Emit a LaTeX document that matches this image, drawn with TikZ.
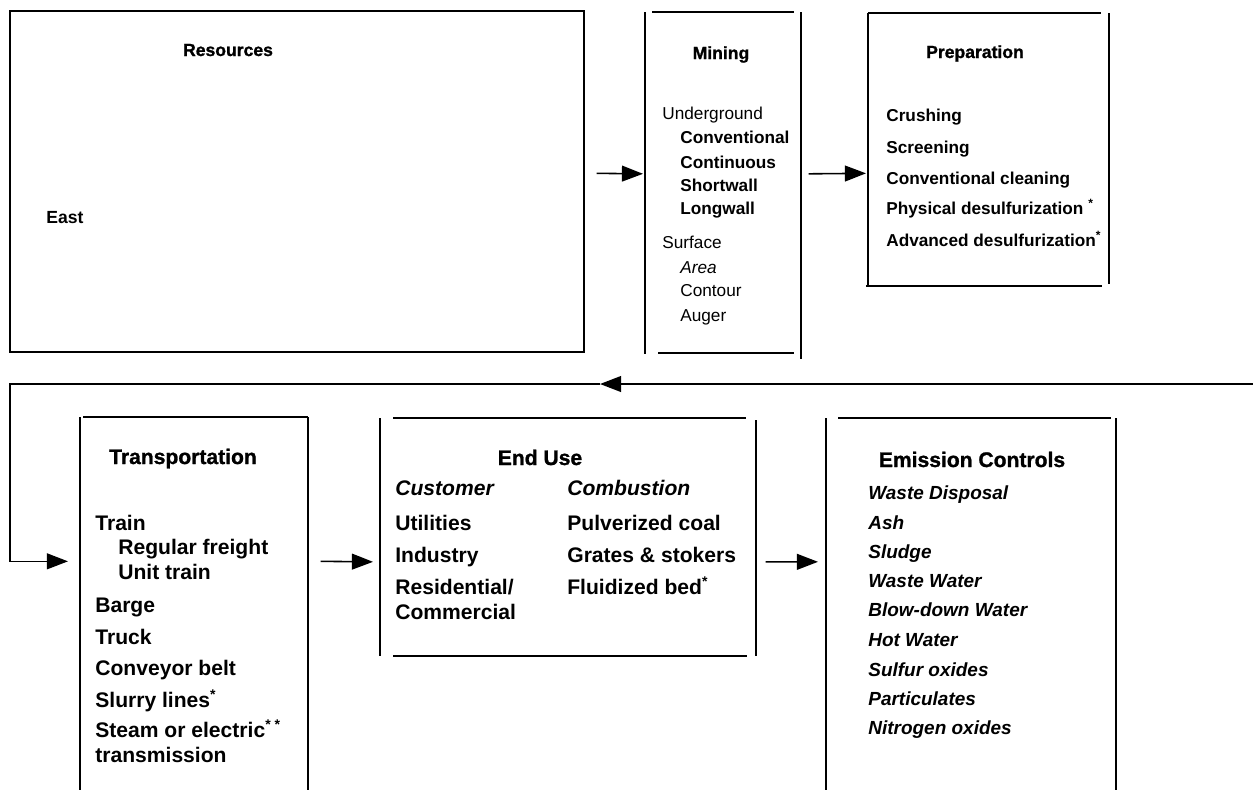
\documentclass[tikz,border=0pt]{standalone}
\usepackage{fontspec}
\setmainfont{Liberation Sans}
\newfontfamily\blackfont[FakeBold=1.2]{Liberation Sans Bold}
\usetikzlibrary{arrows.meta}

\tikzset{
  boxline/.style={line width=1.1pt},
  flow/.style={line width=0.9pt, -{Triangle[length=12pt,width=9pt]}},
  area/.style={rectangle, inner sep=0pt, anchor=north west},
  uptitle/.style={anchor=base, inner sep=0pt, font=\fontsize{10}{12}\blackfont},
  upitem/.style={anchor=base west, inner sep=0pt, font=\fontsize{9.8}{12}\selectfont\bfseries},
  uplight/.style={anchor=base west, inner sep=0pt, font=\fontsize{9.8}{12}\selectfont},
  lowtitle/.style={anchor=base, inner sep=0pt, font=\fontsize{12}{14}\blackfont},
  lowitem/.style={anchor=base west, inner sep=0pt, font=\fontsize{12}{14}\selectfont\bfseries},
  emiitem/.style={anchor=base west, inner sep=0pt, font=\fontsize{10.8}{13}\selectfont\bfseries\itshape},
}

\begin{document}
\begin{tikzpicture}[x=0.02cm, y=-0.02cm]
        \useasboundingbox (0,0) rectangle (1253,789);

        % box areas
        \node[area, minimum width=11.46cm, minimum height=6.8cm] (res) at (10,11) {};
        \node[area, minimum width=3.1cm, minimum height=6.86cm] (min) at (645,12) {};
        \node[area, minimum width=4.8cm, minimum height=5.44cm] (prep) at (868,13) {};
        \node[area, minimum width=4.54cm, minimum height=7.44cm] (tra) at (80,417) {};
        \node[area, minimum width=7.5cm, minimum height=4.74cm] (end) at (380,418) {};
        \node[area, minimum width=5.78cm, minimum height=7.42cm] (emi) at (826,418) {};

        % box lines
        \draw[boxline] (res.north west) rectangle (res.south east);

        \draw[boxline] (min.north west) -- ([shift={(0,-2)}]min.south west);
        \draw[boxline] ([shift={(7,0)}]min.north west) -- ([shift={(-7,0)}]min.north east);
        \draw[boxline] (min.north east) -- ([shift={(0,3)}]min.south east);
        \draw[boxline] ([shift={(13,-3)}]min.south west) -- ([shift={(-7,-3)}]min.south east);

        \draw[boxline] (prep.north west) -- (prep.south west);
        \draw[boxline] (prep.north west) -- ([shift={(-8,0)}]prep.north east);
        \draw[boxline] (prep.north east) -- ([shift={(0,-2)}]prep.south east);
        \draw[boxline] ([shift={(-2,0)}]prep.south west) -- ([shift={(-7,0)}]prep.south east);

        \draw[boxline] (tra.north west) -- (tra.south west);
        \draw[boxline] ([shift={(3,0)}]tra.north west) -- (tra.north east);
        \draw[boxline] (tra.north east) -- (tra.south east);

        \draw[boxline] (end.north west) -- (end.south west);
        \draw[boxline] ([shift={(13,0)}]end.north west) -- ([shift={(-10,0)}]end.north east);
        \draw[boxline] ([shift={(0,2)}]end.north east) -- (end.south east);
        \draw[boxline] ([shift={(13,0)}]end.south west) -- ([shift={(-9,0)}]end.south east);

        \draw[boxline] (emi.north west) -- (emi.south west);
        \draw[boxline] ([shift={(12,0)}]emi.north west) -- ([shift={(-5,0)}]emi.north east);
        \draw[boxline] (emi.north east) -- (emi.south east);

        % Resources
        \node[uptitle] (res-title) at (228,56) {Resources};
        \node[upitem, font=\fontsize{10}{12}\selectfont\bfseries] (res-east) at (46,223) {East};

        % Mining
        \node[uptitle] (min-title) at (721,59) {Mining};
        \node[uplight] (min-under) at (662,119) {Underground};
        \node[upitem] (min-conv) at (680,143) {Conventional};
        \node[upitem] (min-cont) at (680,168) {Continuous};
        \node[upitem] (min-short) at (680,191) {Shortwall};
        \node[upitem] (min-long) at (680,214) {Longwall};
        \node[uplight] (min-surf) at (662,248) {Surface};
        \node[uplight, font=\fontsize{9.8}{12}\selectfont\itshape] (min-area) at (680,273) {Area};
        \node[uplight] (min-contour) at (680,296) {Contour};
        \node[uplight] (min-auger) at (680,321) {Auger};

        % Preparation
        \node[uptitle] (prep-title) at (975,58) {Preparation};
        \node[upitem] (prep-crush) at (886,121) {Crushing};
        \node[upitem] (prep-screen) at (886,153) {Screening};
        \node[upitem] (prep-clean) at (886,184) {Conventional cleaning};
        \node[upitem] (prep-phys) at (886,214) {Physical desulfurization \textsuperscript{*}};
        \node[upitem] (prep-adv) at (886,246) {Advanced desulfurization\textsuperscript{*}};

        % Transportation
        \node[lowtitle] (tra-title) at (183,464) {Transportation};
        \node[lowitem] (tra-train) at (95,530) {Train};
        \node[lowitem] (tra-freight) at (118,554) {Regular freight};
        \node[lowitem] (tra-unit) at (118,579) {Unit train};
        \node[lowitem] (tra-barge) at (95,612) {Barge};
        \node[lowitem] (tra-truck) at (95,644) {Truck};
        \node[lowitem] (tra-belt) at (95,675) {Conveyor belt};
        \node[lowitem] (tra-slurry) at (95,707) {Slurry lines\textsuperscript{*}};
        \node[lowitem] (tra-steam) at (95,737) {Steam or electric\textsuperscript{* *}};
        \node[lowitem] (tra-trans) at (95,762) {transmission};

        % End Use
        \node[lowtitle] (end-title) at (540,465) {End Use};
        \node[lowitem, font=\fontsize{12}{14}\selectfont\bfseries\itshape] (end-cust) at (395,495) {Customer};
        \node[lowitem] (end-util) at (395,530) {Utilities};
        \node[lowitem] (end-ind) at (395,562) {Industry};
        \node[lowitem] (end-res) at (395,594) {Residential/};
        \node[lowitem] (end-com) at (395,619) {Commercial};
        \node[lowitem, font=\fontsize{12}{14}\selectfont\bfseries\itshape] (end-comb) at (567,495) {Combustion};
        \node[lowitem] (end-pulv) at (567,530) {Pulverized coal};
        \node[lowitem] (end-grate) at (567,562) {Grates \& stokers};
        \node[lowitem] (end-fluid) at (567,594) {Fluidized bed\textsuperscript{*}};

        % Emission Controls
        \node[lowtitle] (emi-title) at (972,467) {Emission Controls};
        \node[emiitem] (emi-waste) at (868,499) {Waste Disposal};
        \node[emiitem] (emi-ash) at (868,529) {Ash};
        \node[emiitem] (emi-sludge) at (868,558) {Sludge};
        \node[emiitem] (emi-ww) at (868,587) {Waste Water};
        \node[emiitem] (emi-blow) at (868,616) {Blow-down Water};
        \node[emiitem] (emi-hot) at (868,646) {Hot Water};
        \node[emiitem] (emi-sox) at (868,676) {Sulfur oxides};
        \node[emiitem] (emi-part) at (868,705) {Particulates};
        \node[emiitem] (emi-nox) at (868,734) {Nitrogen oxides};

        % flow arrows
        \draw[flow] ([shift={(13,-8)}]res.east) -- ([shift={(-2,-10)}]min.west);
        \draw[flow] ([shift={(8,-10)}]min.east) -- ([shift={(-2,24)}]prep.west);
        \draw[flow] ([shift={(13,-42)}]tra.east) -- ([shift={(-7,25)}]end.west);
        \draw[flow] ([shift={(10,25)}]end.east) -- ([shift={(-8,-42)}]emi.west);

        % return line
        \coordinate (back-start) at (1253,384);
        \coordinate (back-mid) at (600,384);
        \coordinate (back-turn) at (10,384);
        \draw[flow] (back-start) -- (back-mid);
        \draw[flow] (back-mid) -- (back-turn) |- ([shift={(-12,-42)}]tra.west);
      \end{tikzpicture}
\end{document}
